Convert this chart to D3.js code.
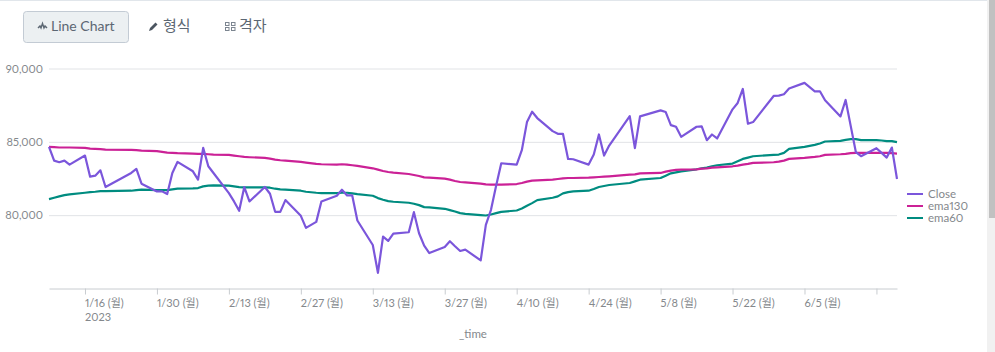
<!DOCTYPE html>
<html>
<head>
<meta charset="utf-8">
<script src="https://cdn.jsdelivr.net/npm/d3@7"></script>
<style>
  html, body { margin: 0; padding: 0; background: #fff; overflow: hidden; }
  svg { display: block; }
  text { font-family: Lato, "Noto Sans CJK KR", sans-serif; font-variant-numeric: proportional-nums; }
  .tick text { font-family: Lato, "Noto Sans CJK KR", sans-serif; }
</style>
</head>
<body>
<svg id="canvas"></svg>
<script>
const dates = [
  "2023-01-09","2023-01-10","2023-01-11","2023-01-12","2023-01-13","2023-01-16","2023-01-17","2023-01-18","2023-01-19","2023-01-20","2023-01-25","2023-01-26","2023-01-27","2023-01-30","2023-01-31",
  "2023-02-01","2023-02-02","2023-02-03","2023-02-06","2023-02-07","2023-02-08","2023-02-09","2023-02-10","2023-02-13","2023-02-14","2023-02-15","2023-02-16","2023-02-17","2023-02-20","2023-02-21","2023-02-22","2023-02-23","2023-02-24","2023-02-27","2023-02-28",
  "2023-03-02","2023-03-03","2023-03-06","2023-03-07","2023-03-08","2023-03-09","2023-03-10","2023-03-13","2023-03-14","2023-03-15","2023-03-16","2023-03-17","2023-03-20","2023-03-21","2023-03-22","2023-03-23","2023-03-24","2023-03-27","2023-03-28","2023-03-29","2023-03-30","2023-03-31",
  "2023-04-03","2023-04-04","2023-04-05","2023-04-06","2023-04-07","2023-04-10","2023-04-11","2023-04-12","2023-04-13","2023-04-14","2023-04-17","2023-04-18","2023-04-19","2023-04-20","2023-04-21","2023-04-24","2023-04-25","2023-04-26","2023-04-27","2023-04-28",
  "2023-05-02","2023-05-03","2023-05-04","2023-05-08","2023-05-09","2023-05-10","2023-05-11","2023-05-12","2023-05-15","2023-05-16","2023-05-17","2023-05-18","2023-05-19","2023-05-22","2023-05-23","2023-05-24","2023-05-25","2023-05-26","2023-05-30","2023-05-31",
  "2023-06-01","2023-06-02","2023-06-05","2023-06-07","2023-06-08","2023-06-09","2023-06-12","2023-06-13","2023-06-14","2023-06-15","2023-06-16","2023-06-19","2023-06-20","2023-06-21","2023-06-22","2023-06-23",
];

const close = [
  84657,83720,83607,83720,83447,84064,82625,82694,83059,81918,82877,83150,82146,81621,81621,
  81438,82877,83630,82990,82420,84590,83333,82877,81507,80936,80297,81918,80936,81918,81461,80228,80228,81027,79954,79132,
  79543,80936,81324,81735,81347,81347,79635,77968,76073,78539,78242,78744,78836,80205,78767,77922,77420,77831,78219,77877,77557,77648,
  76918,79338,80365,82009,83539,83447,84429,86347,87055,86621,85731,85548,85548,83836,83813,83448,84132,85502,84064,84749,
  86758,84566,86735,87146,87032,86142,86027,85342,86027,86050,85114,85500,85228,87215,87648,88607,86233,86347,88128,88150,
  88242,88630,89018,88447,88447,87831,86735,87854,86073,84292,84018,84566,84247,83927,84612,82466,
];

const ema130 = [
  84657,84634,84612,84612,84612,84589,84543,84520,84498,84475,84452,84429,84406,84361,84315,
  84269,84246,84224,84201,84178,84178,84155,84132,84109,84064,84018,83972,83950,83904,83858,83790,83744,83721,83630,83584,
  83493,83470,83447,83470,83447,83402,83356,83196,83105,83014,82945,82899,82808,82740,82671,82580,82557,82488,82420,82329,82260,82237,
  82146,82100,82078,82078,82078,82123,82192,82283,82351,82374,82420,82466,82511,82534,82534,82557,82580,82603,82625,82648,
  82762,82785,82854,82877,82968,83037,83082,83105,83128,83174,83196,83242,83265,83333,83379,83448,83493,83562,83607,83653,
  83721,83836,83904,83973,84018,84110,84155,84178,84224,84247,84247,84247,84247,84247,84224,84200,
];

const ema60 = [
  81096,81187,81278,81370,81415,81530,81575,81598,81644,81644,81667,81712,81735,81712,81712,
  81712,81758,81804,81826,81849,81963,82009,82032,82009,81963,81918,81895,81895,81895,81872,81804,81758,81735,81667,81598,
  81530,81507,81507,81530,81530,81484,81438,81324,81164,81050,80959,80913,80845,80776,80685,80548,80525,80434,80342,80251,80137,80091,
  80000,79977,80046,80137,80228,80320,80457,80639,80822,81027,81187,81278,81484,81575,81621,81667,81781,81918,81986,82055,
  82192,82306,82420,82534,82694,82854,82922,82991,83128,83196,83242,83333,83402,83516,83676,83836,83927,84018,84110,84132,
  84247,84521,84658,84795,84886,85023,85068,85137,85183,85183,85114,85114,85091,85046,85046,84977,
];

const seriesNames = ["Close", "ema130", "ema60"];
const seriesColors = ["#7b56db", "#cb2196", "#008c80"];
const yTicks = [80000, 85000, 90000];
const xTickDates = ["2023-01-16","2023-01-30","2023-02-13","2023-02-27","2023-03-13","2023-03-27","2023-04-10","2023-04-24","2023-05-08","2023-05-22","2023-06-05","2023-06-19"];
const xTickLabels = ["1/16 (월)","1/30 (월)","2/13 (월)","2/27 (월)","3/13 (월)","3/27 (월)","4/10 (월)","4/24 (월)","5/8 (월)","5/22 (월)","6/5 (월)",""];

const width = 995;
const height = 352;
const textColor = "#84888c";
const parseDate = d3.utcParse("%Y-%m-%d");

const canvas = d3.select("#canvas").attr("width", width).attr("height", height);

const xScale = d3
  .scaleUtc()
  .domain([parseDate("2023-01-09"), parseDate("2023-06-23")])
  .range([49, 897]);

const yScale = d3.scaleLinear().domain([75000, 90000]).range([288.5, 68.5]);

// page chrome: top rule and scrollbar
canvas.append("rect").attr("width", 987).attr("height", 1).attr("fill", "#e1e6eb");
canvas.append("rect").attr("x", 987).attr("width", 8).attr("height", height).attr("fill", "#f1f1f1");
canvas.append("rect").attr("x", 989).attr("width", 6).attr("height", 218).attr("fill", "#c1c1c1");

// tab bar
const tabs = canvas.append("g");
tabs
  .append("rect")
  .attr("x", 23.5)
  .attr("y", 11.5)
  .attr("width", 105)
  .attr("height", 31)
  .attr("rx", 3)
  .attr("fill", "#ecf0f2")
  .attr("stroke", "#c3cbd4");
tabs
  .append("path")
  .attr("d", "M38 28 L40 26 L41 28 L42.5 23.5 L44 28 L45 26 L47 28")
  .attr("fill", "none")
  .attr("stroke", "#5c6773")
  .attr("stroke-width", 1.4);
tabs
  .append("path")
  .attr("d", "M149 31 L150 28 L155.5 22.5 L157.5 24.5 L152 30 Z")
  .attr("fill", "#4b5560");
const gridIcon = tabs.append("g").attr("fill", "none").attr("stroke", "#7c8590");
[[225.5, 22.5], [231.5, 22.5], [225.5, 27.5], [231.5, 27.5]].forEach(([x, y]) => {
  gridIcon.append("rect").attr("x", x).attr("y", y).attr("width", 3.5).attr("height", 3);
});
[["Line Chart", 51, 14], ["형식", 163, 15], ["격자", 239, 15]].forEach(([label, x, size]) => {
  tabs
    .append("text")
    .attr("x", x)
    .attr("y", 31)
    .attr("font-size", size)
    .attr("fill", "#5c6773")
    .text(label);
});

// grid and axes
const yAxis = d3
  .axisLeft(yScale)
  .tickValues(yTicks)
  .tickFormat(d3.format(","))
  .tickSize(-848)
  .tickPadding(6);

const yAxisGroup = canvas
  .append("g")
  .attr("id", "y-axis")
  .attr("transform", "translate(49, 0)")
  .call(yAxis);
yAxisGroup.select(".domain").remove();
yAxisGroup.selectAll("line").attr("stroke", "#e1e3e6");
yAxisGroup.selectAll("text").attr("font-size", 11).attr("fill", textColor);

const xAxis = d3
  .axisBottom(xScale)
  .tickValues(xTickDates.map(parseDate))
  .tickFormat((d, i) => xTickLabels[i])
  .tickSize(6)
  .tickSizeOuter(0)
  .tickPadding(5);

const xAxisGroup = canvas
  .append("g")
  .attr("id", "x-axis")
  .attr("transform", "translate(0, 288.5)")
  .call(xAxis);
xAxisGroup.select(".domain").attr("stroke", "#c8ccd0");
xAxisGroup.selectAll("line").attr("stroke", "#c8ccd0");
xAxisGroup
  .selectAll("text")
  .attr("text-anchor", "start")
  .attr("x", -0.5)
  .attr("font-size", 11)
  .attr("fill", textColor);

canvas
  .append("text")
  .attr("x", 85)
  .attr("y", 321)
  .attr("font-size", 11)
  .attr("fill", textColor)
  .text("2023");

canvas
  .append("text")
  .attr("x", 473)
  .attr("y", 338)
  .attr("text-anchor", "middle")
  .attr("font-size", 11.5)
  .attr("fill", textColor)
  .text("_time");

// lines, drawn back to front so Close stays on top
const lineGen = d3
  .line()
  .x((d) => xScale(d.date))
  .y((d) => yScale(d.value));

[ema60, ema130, close].forEach((values) => {
  const points = values.map((value, i) => ({ date: parseDate(dates[i]), value }));
  const index = [close, ema130, ema60].indexOf(values);
  canvas
    .append("path")
    .datum(points)
    .attr("fill", "none")
    .attr("stroke", seriesColors[index])
    .attr("stroke-width", 2.2)
    .attr("stroke-linejoin", "round")
    .attr("d", lineGen);
});

// legend
const legendY = d3.scalePoint().domain(seriesNames).range([194, 218]);
const legend = canvas
  .selectAll(".legend")
  .data(seriesNames)
  .enter()
  .append("g")
  .attr("class", "legend")
  .attr("transform", (d) => `translate(907, ${legendY(d)})`);
legend
  .append("line")
  .attr("x2", 16)
  .attr("stroke", (d, i) => seriesColors[i])
  .attr("stroke-width", 2);
legend
  .append("text")
  .attr("x", 21)
  .attr("y", 4)
  .attr("font-size", 11.5)
  .attr("fill", textColor)
  .text((d) => d);
</script>
</body>
</html>
